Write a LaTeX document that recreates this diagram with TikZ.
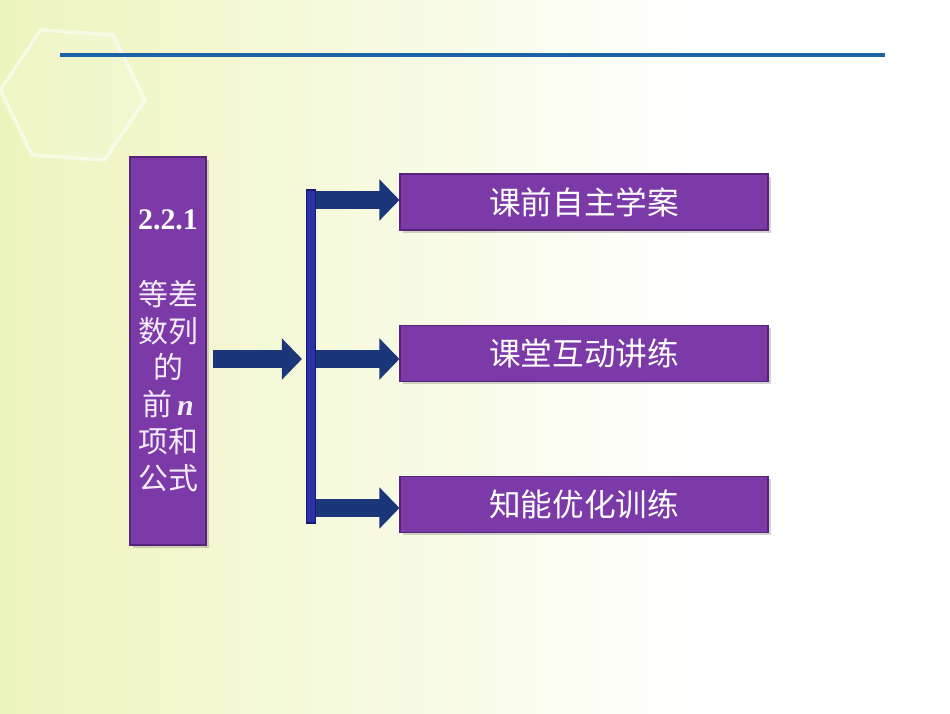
\documentclass[tikz,border=0pt]{standalone}
\usepackage{fontspec}
\setmainfont{Liberation Serif}
\newfontfamily\cjk{Noto Sans CJK SC}
\usepackage{tikz}
\usetikzlibrary{arrows.meta, shadows, positioning}
\definecolor{bgleft}{RGB}{222,236,140}
\definecolor{bgmid}{RGB}{240,246,198}
\definecolor{boxpurple}{RGB}{123,58,168}
\definecolor{boxedge}{RGB}{86,36,120}
\definecolor{barblue}{RGB}{42,50,165}
\definecolor{baredge}{RGB}{22,26,110}
\definecolor{arrownavy}{RGB}{28,54,122}
\definecolor{linecol}{RGB}{30,98,168}
\definecolor{softwhite}{RGB}{244,236,250}
\pgfdeclarehorizontalshading{slidebg}{100bp}{color(0bp)=(bgleft); color(30bp)=(bgmid); color(62bp)=(white); color(100bp)=(white)}
\tikzstyle{box} = [draw=boxedge, fill=boxpurple, line width=0.6pt, inner sep=0pt, drop shadow={shadow xshift=1.5pt, shadow yshift=-1.5pt, opacity=0.35}, text=white]
\tikzstyle{fatarrow} = [line width=0.36cm, arrownavy, -{Triangle[length=0.4cm, width=0.8cm]}]

\begin{document}
\begin{tikzpicture}
        % Background
        \shade[shading=slidebg] (0,0) rectangle (19,14.26);
        \useasboundingbox (0,0) rectangle (19,14.26);
        \begin{scope}[shift={(1.45,12.36)}]
            \draw[white, line width=2pt, opacity=0.55, fill=white, fill opacity=0.12] (-4:1.45) \foreach \a in {56,116,...,296} {-- (\a:1.45)} -- cycle;
        \end{scope}
        \draw[linecol, line width=2.3pt] (1.2,13.16) -- (17.7,13.16);

        % Section block
        \node[box, minimum width=1.52cm, minimum height=7.76cm, align=center, text=softwhite, font=\cjk\fontsize{17}{21}\selectfont] (sec) at (3.36,7.24)
            {{\rmfamily\bfseries\color{white}2.2.1}\\[22pt]等差\\数列\\的\\前\,{\rmfamily\bfseries\itshape n}\\项和\\公式};

        % Branch blocks
        \node[box, minimum width=7.36cm, minimum height=1.12cm, font=\cjk\fontsize{18}{22}\selectfont] (b1) at (11.68,10.22) {课前自主学案};
        \node[box, minimum width=7.36cm, minimum height=1.12cm, font=\cjk\fontsize{18}{22}\selectfont, below=1.88cm of b1] (b2) {课堂互动讲练};
        \node[box, minimum width=7.36cm, minimum height=1.12cm, font=\cjk\fontsize{18}{22}\selectfont, below=1.88cm of b2] (b3) {知能优化训练};

        % Bracket
        \node[draw=baredge, fill=barblue, line width=0.6pt, minimum width=0.18cm, minimum height=6.66cm, inner sep=0pt] (bar) at (6.22,7.13) {};

        % Arrows
        \coordinate (r1) at (0,10.26);
        \coordinate (r2) at (0,7.08);
        \coordinate (r3) at (0,4.1);
        \draw[fatarrow, shorten <=0.12cm, shorten >=0.08cm] (sec.east |- r2) -- (bar.west |- r2);
        \draw[fatarrow] (bar.east |- r1) -- (b1.west |- r1);
        \draw[fatarrow] (bar.east |- r2) -- (b2.west |- r2);
        \draw[fatarrow] (bar.east |- r3) -- (b3.west |- r3);
\end{tikzpicture}
\end{document}
